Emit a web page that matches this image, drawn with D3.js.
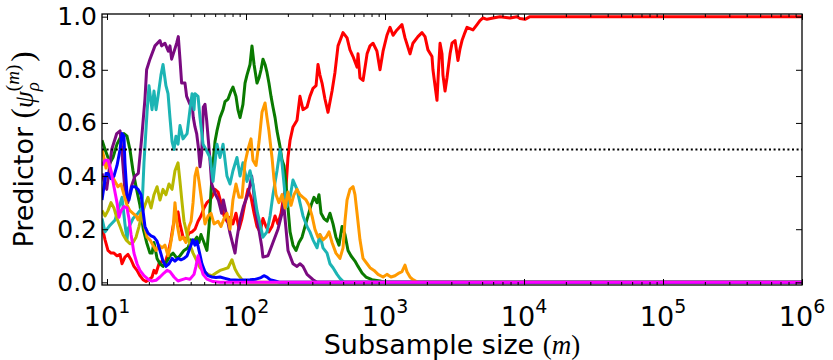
<!DOCTYPE html>
<html>
<head>
<meta charset="utf-8">
<script src="https://cdn.jsdelivr.net/npm/d3@7"></script>
<style>
  body { margin: 0; background: #fff; }
  svg { display: block; }
</style>
</head>
<body>
<svg id="chart" width="833" height="360"></svg>
<script>
// values, as [log10(m), predictor]
var red = [[0.964,0.21],[0.986,0.16],[1.007,0.12],[1.029,0.11],[1.050,0.11],[1.072,0.10],[1.094,0.105],[1.108,0.07],[1.129,0.095],[1.151,0.105],[1.173,0.085],[1.194,0.06],[1.216,0.045],[1.237,0.025],[1.259,0.01],[1.281,0.003],[1.302,0.01],[1.324,0.02],[1.338,0.045],[1.353,0.035],[1.374,0.07],[1.396,0.08],[1.417,0.07],[1.439,0.11],[1.460,0.16],[1.475,0.21],[1.496,0.26],[1.511,0.265],[1.525,0.22],[1.547,0.17],[1.568,0.16],[1.590,0.185],[1.612,0.19],[1.633,0.20],[1.655,0.23],[1.676,0.25],[1.698,0.28],[1.719,0.30],[1.741,0.31],[1.763,0.33],[1.777,0.35],[1.799,0.34],[1.820,0.30],[1.842,0.25],[1.863,0.23],[1.885,0.245],[1.906,0.22],[1.928,0.26],[1.950,0.20],[1.971,0.24],[1.993,0.30],[2.014,0.35],[2.036,0.32],[2.058,0.26],[2.079,0.21],[2.101,0.19],[2.122,0.24],[2.144,0.21],[2.165,0.19],[2.187,0.21],[2.209,0.25],[2.230,0.22],[2.252,0.26],[2.273,0.33],[2.288,0.36],[2.302,0.47],[2.317,0.535],[2.338,0.585],[2.367,0.61],[2.388,0.70],[2.410,0.65],[2.439,0.66],[2.460,0.70],[2.482,0.73],[2.504,0.74],[2.518,0.82],[2.532,0.78],[2.547,0.75],[2.568,0.69],[2.590,0.64],[2.619,0.72],[2.640,0.79],[2.662,0.89],[2.698,0.94],[2.727,0.92],[2.748,0.875],[2.770,0.85],[2.799,0.81],[2.806,0.86],[2.820,0.77],[2.842,0.76],[2.871,0.86],[2.892,0.89],[2.914,0.90],[2.942,0.87],[2.964,0.80],[2.986,0.87],[3.014,0.93],[3.036,0.96],[3.058,0.93],[3.086,0.95],[3.122,0.97],[3.144,0.92],[3.180,0.86],[3.201,0.90],[3.237,0.925],[3.266,0.94],[3.288,0.925],[3.309,0.875],[3.338,0.85],[3.345,0.80],[3.360,0.74],[3.374,0.685],[3.385,0.80],[3.396,0.90],[3.410,0.86],[3.417,0.78],[3.432,0.72],[3.446,0.77],[3.453,0.80],[3.468,0.86],[3.482,0.90],[3.504,0.91],[3.518,0.86],[3.525,0.835],[3.540,0.88],[3.554,0.91],[3.575,0.94],[3.590,0.96],[3.633,0.95],[3.662,0.97],[3.683,0.985],[3.705,0.995],[3.734,0.99],[3.777,0.995],[3.827,1.0],[3.899,0.995],[3.950,1.0],[3.971,0.993],[4.007,0.99],[4.043,1.0],[6.0,1.0]];

var green = [[0.964,0.535],[0.986,0.50],[1.007,0.47],[1.022,0.45],[1.043,0.47],[1.072,0.52],[1.101,0.55],[1.122,0.56],[1.144,0.55],[1.165,0.50],[1.187,0.42],[1.209,0.36],[1.237,0.29],[1.261,0.20],[1.285,0.15],[1.309,0.11],[1.324,0.11],[1.338,0.15],[1.360,0.09],[1.381,0.07],[1.403,0.06],[1.432,0.08],[1.453,0.10],[1.475,0.11],[1.504,0.09],[1.525,0.10],[1.554,0.12],[1.583,0.13],[1.604,0.16],[1.626,0.155],[1.647,0.17],[1.662,0.15],[1.676,0.18],[1.698,0.15],[1.719,0.12],[1.734,0.21],[1.748,0.34],[1.763,0.45],[1.777,0.53],[1.791,0.57],[1.813,0.62],[1.835,0.65],[1.849,0.68],[1.871,0.69],[1.892,0.72],[1.906,0.735],[1.928,0.70],[1.942,0.65],[1.957,0.62],[1.978,0.67],[1.993,0.75],[2.007,0.78],[2.029,0.82],[2.043,0.89],[2.058,0.82],[2.079,0.75],[2.094,0.77],[2.108,0.80],[2.122,0.84],[2.137,0.82],[2.151,0.79],[2.165,0.75],[2.180,0.70],[2.194,0.66],[2.209,0.62],[2.223,0.57],[2.245,0.51],[2.259,0.46],[2.273,0.44],[2.288,0.37],[2.302,0.28],[2.317,0.19],[2.338,0.14],[2.360,0.12],[2.381,0.15],[2.403,0.17],[2.424,0.21],[2.446,0.25],[2.468,0.29],[2.489,0.32],[2.511,0.30],[2.525,0.33],[2.540,0.26],[2.561,0.24],[2.583,0.23],[2.604,0.26],[2.626,0.22],[2.647,0.17],[2.669,0.14],[2.691,0.21],[2.712,0.18],[2.734,0.12],[2.755,0.10],[2.784,0.08],[2.806,0.06],[2.835,0.035],[2.863,0.02],[2.906,0.01],[2.964,0.005],[3.0,0],[6.0,0]];

var purple = [[0.964,0.41],[0.998,0.35],[1.034,0.50],[1.070,0.56],[1.094,0.57],[1.106,0.50],[1.130,0.34],[1.150,0.30],[1.175,0.36],[1.201,0.40],[1.225,0.41],[1.249,0.54],[1.273,0.69],[1.285,0.80],[1.309,0.84],[1.345,0.89],[1.381,0.91],[1.393,0.89],[1.417,0.90],[1.441,0.87],[1.453,0.89],[1.465,0.84],[1.477,0.86],[1.501,0.90],[1.513,0.925],[1.525,0.84],[1.537,0.75],[1.561,0.75],[1.573,0.70],[1.597,0.67],[1.609,0.69],[1.621,0.62],[1.633,0.585],[1.645,0.56],[1.657,0.51],[1.669,0.435],[1.681,0.485],[1.693,0.66],[1.705,0.67],[1.717,0.61],[1.729,0.535],[1.741,0.46],[1.753,0.37],[1.777,0.335],[1.801,0.31],[1.825,0.26],[1.837,0.31],[1.861,0.25],[1.885,0.185],[1.921,0.11],[1.933,0.16],[1.957,0.235],[1.981,0.285],[2.017,0.335],[2.041,0.40],[2.053,0.35],[2.065,0.285],[2.089,0.21],[2.113,0.135],[2.122,0.095],[2.158,0.10],[2.194,0.15],[2.230,0.20],[2.259,0.26],[2.270,0.30],[2.288,0.20],[2.302,0.12],[2.338,0.07],[2.367,0.06],[2.388,0.07],[2.410,0.06],[2.439,0.03],[2.482,0.01],[2.511,0],[6.0,0]];

var cyan = [[0.964,0.24],[0.986,0.19],[1.022,0.215],[1.058,0.235],[1.079,0.27],[1.108,0.32],[1.129,0.22],[1.144,0.16],[1.151,0.20],[1.187,0.24],[1.223,0.26],[1.252,0.28],[1.266,0.45],[1.288,0.64],[1.302,0.74],[1.324,0.65],[1.338,0.72],[1.353,0.65],[1.367,0.70],[1.388,0.78],[1.403,0.82],[1.424,0.74],[1.439,0.71],[1.453,0.62],[1.468,0.53],[1.482,0.50],[1.496,0.55],[1.511,0.52],[1.525,0.59],[1.547,0.54],[1.576,0.56],[1.597,0.65],[1.612,0.71],[1.626,0.65],[1.633,0.71],[1.655,0.70],[1.669,0.62],[1.691,0.52],[1.712,0.50],[1.741,0.47],[1.763,0.38],[1.791,0.52],[1.813,0.47],[1.835,0.52],[1.863,0.40],[1.885,0.37],[1.906,0.42],[1.935,0.47],[1.957,0.40],[1.978,0.45],[2.007,0.38],[2.029,0.42],[2.050,0.37],[2.079,0.27],[2.101,0.22],[2.122,0.17],[2.151,0.19],[2.173,0.25],[2.194,0.33],[2.223,0.42],[2.245,0.50],[2.259,0.45],[2.281,0.33],[2.295,0.285],[2.317,0.32],[2.338,0.385],[2.367,0.35],[2.388,0.30],[2.410,0.25],[2.439,0.21],[2.460,0.19],[2.482,0.16],[2.511,0.13],[2.532,0.18],[2.554,0.13],[2.583,0.11],[2.604,0.07],[2.626,0.055],[2.655,0.03],[2.676,0.015],[2.705,0],[6.0,0]];

var orange = [[0.964,0.50],[0.978,0.47],[0.993,0.43],[1.007,0.46],[1.022,0.43],[1.036,0.40],[1.058,0.38],[1.079,0.36],[1.101,0.37],[1.122,0.33],[1.144,0.29],[1.165,0.27],[1.187,0.26],[1.209,0.25],[1.223,0.235],[1.245,0.26],[1.266,0.22],[1.288,0.17],[1.309,0.16],[1.331,0.14],[1.353,0.12],[1.374,0.14],[1.396,0.13],[1.417,0.14],[1.439,0.10],[1.453,0.13],[1.475,0.20],[1.489,0.30],[1.504,0.22],[1.525,0.16],[1.547,0.17],[1.568,0.15],[1.590,0.21],[1.605,0.23],[1.619,0.30],[1.633,0.40],[1.647,0.43],[1.662,0.38],[1.683,0.30],[1.705,0.22],[1.727,0.25],[1.748,0.26],[1.770,0.22],[1.799,0.23],[1.820,0.21],[1.842,0.24],[1.863,0.26],[1.885,0.20],[1.906,0.31],[1.928,0.37],[1.950,0.32],[1.971,0.32],[1.993,0.45],[2.014,0.50],[2.036,0.54],[2.050,0.46],[2.072,0.44],[2.094,0.53],[2.115,0.64],[2.137,0.675],[2.151,0.62],[2.165,0.57],[2.187,0.47],[2.201,0.39],[2.216,0.33],[2.237,0.30],[2.259,0.33],[2.281,0.28],[2.302,0.34],[2.324,0.29],[2.345,0.33],[2.367,0.35],[2.388,0.33],[2.410,0.32],[2.432,0.31],[2.453,0.29],[2.475,0.25],[2.496,0.20],[2.518,0.17],[2.532,0.18],[2.554,0.16],[2.576,0.17],[2.597,0.19],[2.619,0.15],[2.647,0.11],[2.676,0.09],[2.698,0.13],[2.712,0.23],[2.727,0.31],[2.748,0.35],[2.770,0.36],[2.784,0.33],[2.799,0.26],[2.820,0.16],[2.842,0.09],[2.871,0.07],[2.892,0.055],[2.921,0.045],[2.950,0.03],[2.986,0.02],[3.014,0.03],[3.043,0.02],[3.072,0.025],[3.101,0.035],[3.122,0.04],[3.144,0.065],[3.158,0.04],[3.180,0.02],[3.201,0.01],[3.237,0],[6.0,0]];

var olive = [[0.964,0.27],[0.986,0.25],[1.007,0.27],[1.029,0.30],[1.050,0.28],[1.072,0.24],[1.094,0.21],[1.115,0.18],[1.137,0.16],[1.165,0.145],[1.187,0.15],[1.209,0.17],[1.230,0.21],[1.252,0.26],[1.273,0.29],[1.295,0.32],[1.317,0.28],[1.338,0.33],[1.360,0.36],[1.381,0.31],[1.403,0.35],[1.424,0.33],[1.446,0.37],[1.468,0.35],[1.489,0.42],[1.511,0.45],[1.525,0.38],[1.540,0.30],[1.554,0.23],[1.576,0.18],[1.597,0.14],[1.619,0.11],[1.647,0.08],[1.669,0.055],[1.698,0.04],[1.727,0.03],[1.755,0.025],[1.784,0.035],[1.813,0.045],[1.842,0.05],[1.871,0.055],[1.899,0.085],[1.921,0.05],[1.942,0.03],[1.971,0.01],[2.007,0],[6.0,0]];

var blue = [[0.964,0.31],[0.978,0.36],[0.993,0.41],[1.007,0.41],[1.029,0.39],[1.050,0.40],[1.072,0.44],[1.094,0.50],[1.108,0.56],[1.122,0.55],[1.129,0.45],[1.144,0.33],[1.158,0.31],[1.180,0.36],[1.201,0.36],[1.223,0.35],[1.245,0.33],[1.259,0.27],[1.273,0.21],[1.295,0.185],[1.317,0.175],[1.338,0.17],[1.360,0.155],[1.381,0.12],[1.403,0.08],[1.424,0.06],[1.446,0.07],[1.468,0.09],[1.489,0.08],[1.511,0.09],[1.532,0.085],[1.554,0.09],[1.576,0.10],[1.597,0.13],[1.619,0.16],[1.633,0.14],[1.647,0.155],[1.662,0.12],[1.683,0.07],[1.705,0.04],[1.727,0.025],[1.755,0.02],[1.784,0.018],[1.813,0.02],[1.849,0.015],[1.885,0.01],[1.957,0.008],[2.029,0.01],[2.072,0.012],[2.108,0.018],[2.129,0.025],[2.151,0.02],[2.173,0.01],[2.209,0.005],[2.245,0],[6.0,0]];

var magenta = [[0.964,0.44],[0.986,0.46],[1.007,0.46],[1.029,0.42],[1.050,0.36],[1.072,0.30],[1.086,0.245],[1.101,0.27],[1.122,0.285],[1.144,0.28],[1.158,0.24],[1.173,0.18],[1.194,0.11],[1.216,0.07],[1.237,0.045],[1.266,0.025],[1.295,0.012],[1.324,0.005],[1.353,0.008],[1.381,0.02],[1.410,0.035],[1.432,0.045],[1.453,0.04],[1.482,0.02],[1.511,0.005],[1.540,0.01],[1.568,0.015],[1.597,0.012],[1.626,0.03],[1.640,0.06],[1.655,0.10],[1.669,0.07],[1.691,0.03],[1.719,0.012],[1.763,0.003],[1.813,0],[6.0,0]];

var xMajor = [1e1, 1e2, 1e3, 1e4, 1e5, 1e6];
var xExponents = ["1", "2", "3", "4", "5", "6"];
var yTicks = [0.0, 0.2, 0.4, 0.6, 0.8, 1.0];
var threshold = 0.5;

var series = [
    {data: red, color: "#ff0000"},
    {data: green, color: "#0a7a00"},
    {data: purple, color: "#7a0a80"},
    {data: cyan, color: "#1cb4b4"},
    {data: orange, color: "#ff9a00"},
    {data: olive, color: "#b8b800"},
    {data: blue, color: "#0000ff"},
    {data: magenta, color: "#ff00ff"}
];

var plotLeft = 102, plotRight = 802, plotTop = 14, plotBottom = 285;

var svg = d3.select("#chart");

var x = d3.scaleLog()
    .domain([Math.pow(10, 0.964), 1e6])
    .range([plotLeft, plotRight]);

var y = d3.scaleLinear()
    .domain([-0.01, 1.01])
    .range([plotBottom, plotTop]);

// minor ticks 2..9 of each decade
var xMinor = [];
for (var k = 1; k < 6; k++) {
    for (var j = 2; j < 10; j++) xMinor.push(j * Math.pow(10, k));
}

svg.append("clipPath").attr("id", "plotclip")
  .append("rect")
    .attr("x", plotLeft).attr("y", plotTop)
    .attr("width", plotRight - plotLeft).attr("height", plotBottom - plotTop);

var plot = svg.append("g").attr("clip-path", "url(#plotclip)");

var line = d3.line()
    .x(function(d) { return x(Math.pow(10, d[0])); })
    .y(function(d) { return y(d[1]); });

plot.selectAll("path.series")
    .data(series)
    .enter().append("path")
    .attr("class", "series")
    .attr("d", function(d) { return line(d.data); })
    .attr("fill", "none")
    .attr("stroke", function(d) { return d.color; })
    .attr("stroke-width", 3)
    .attr("stroke-linejoin", "round");

// dotted 0.5 line
plot.append("line")
    .attr("x1", plotLeft).attr("x2", plotRight)
    .attr("y1", y(threshold)).attr("y2", y(threshold))
    .attr("stroke", "#000")
    .attr("stroke-width", 2)
    .attr("stroke-dasharray", "2,2.6");

function noDomain(g) { g.select(".domain").remove(); }

svg.append("g").attr("transform", "translate(0," + plotBottom + ")")
    .call(d3.axisBottom(x).tickValues(xMajor).tickSize(-6).tickFormat(""))
    .call(noDomain);
svg.append("g").attr("transform", "translate(0," + plotBottom + ")")
    .call(d3.axisBottom(x).tickValues(xMinor).tickSize(-3).tickFormat(""))
    .call(noDomain);
svg.append("g").attr("transform", "translate(0," + plotTop + ")")
    .call(d3.axisTop(x).tickValues(xMajor).tickSize(-6).tickFormat(""))
    .call(noDomain);
svg.append("g").attr("transform", "translate(0," + plotTop + ")")
    .call(d3.axisTop(x).tickValues(xMinor).tickSize(-3).tickFormat(""))
    .call(noDomain);

svg.append("g").attr("transform", "translate(" + plotLeft + ",0)")
    .call(d3.axisLeft(y).tickValues(yTicks).tickSize(-6).tickPadding(5).tickFormat(d3.format(".1f")))
    .call(noDomain)
    .selectAll("text")
    .style("font-family", "'DejaVu Sans', sans-serif")
    .style("font-size", "25px")
    .attr("fill", "#000");
svg.append("g").attr("transform", "translate(" + plotRight + ",0)")
    .call(d3.axisRight(y).tickValues(yTicks).tickSize(-6).tickFormat(""))
    .call(noDomain);

svg.selectAll(".tick line").attr("stroke", "#000").attr("stroke-width", 1);

// x tick labels as 10^k
var xl = svg.append("g").selectAll("text")
    .data(xMajor)
    .enter().append("text")
    .attr("x", function(d) { return x(d); })
    .attr("y", 326)
    .attr("text-anchor", "middle")
    .style("font-family", "'DejaVu Sans', sans-serif")
    .style("font-size", "27px");
xl.append("tspan").text("10");
xl.append("tspan")
    .attr("dy", -13)
    .style("font-size", "19px")
    .text(function(d, i) { return xExponents[i]; });

// frame
svg.append("rect")
    .attr("x", plotLeft).attr("y", plotTop)
    .attr("width", plotRight - plotLeft).attr("height", plotBottom - plotTop)
    .attr("fill", "none")
    .attr("stroke", "#000")
    .attr("stroke-width", 1.3);

// axis labels
var xlab = svg.append("text")
    .attr("x", (plotLeft + plotRight) / 2)
    .attr("y", 354)
    .attr("text-anchor", "middle")
    .style("font-family", "'DejaVu Sans', sans-serif")
    .style("font-size", "27px");
xlab.append("tspan").text("Subsample size ");
var xm = xlab.append("tspan").style("font-family", "'Liberation Serif', serif");
xm.append("tspan").text("(");
xm.append("tspan").style("font-style", "italic").text("m");
xm.append("tspan").text(")");

var ylab = svg.append("text")
    .attr("transform", "translate(33," + ((plotTop + plotBottom) / 2) + ") rotate(-90)")
    .attr("text-anchor", "middle")
    .style("font-family", "'DejaVu Sans', sans-serif")
    .style("font-size", "27px");
ylab.append("tspan").text("Predictor ");
ylab.append("tspan").style("font-family", "'Liberation Serif', serif").style("font-size", "31px").text("(");
ylab.append("tspan").style("font-family", "'Liberation Serif', serif").style("font-style", "italic").text("\u03c8");
ylab.append("tspan").attr("dy", 6).style("font-family", "'Liberation Serif', serif")
    .style("font-style", "italic").style("font-size", "19px").text("\u03c1");
var sup = ylab.append("tspan").attr("dx", -9).attr("dy", -20)
    .style("font-family", "'Liberation Serif', serif").style("font-size", "19px");
sup.append("tspan").text("(");
sup.append("tspan").style("font-style", "italic").text("m");
sup.append("tspan").text(")");
ylab.append("tspan").attr("dx", 3).attr("dy", 14).style("font-family", "'Liberation Serif', serif")
    .style("font-size", "31px").text(")");
</script>
</body>
</html>
